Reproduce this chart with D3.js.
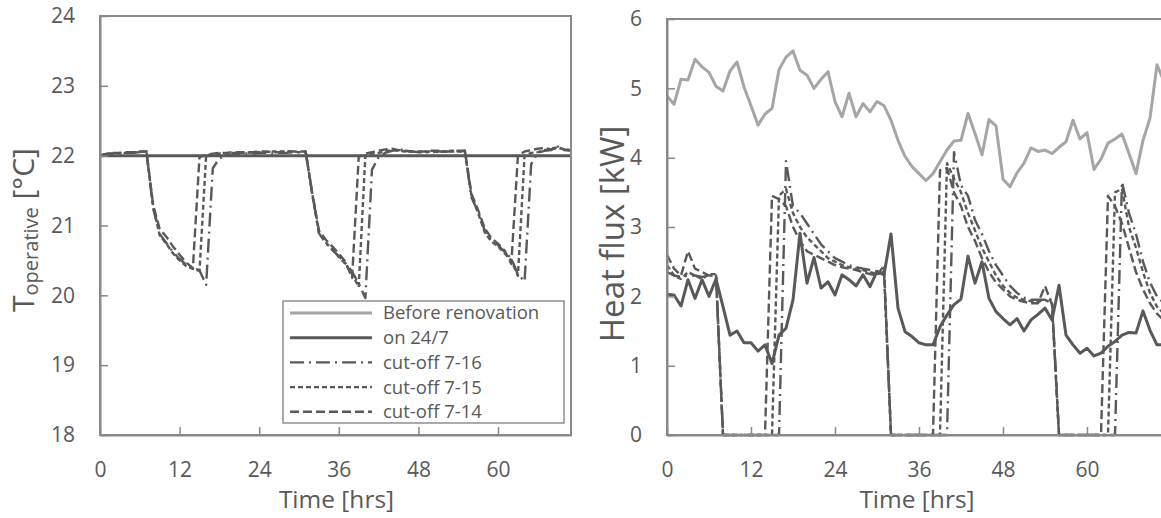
<!DOCTYPE html>
<html>
<head>
<meta charset="utf-8">
<script src="https://cdn.jsdelivr.net/npm/d3@7"></script>
<style>
  html, body { margin: 0; padding: 0; background: #fff; }
  svg { display: block; }
  text { font-family: "Open Sans", "Noto Sans", sans-serif; fill: #595959; }
</style>
</head>
<body>
<svg id="chart" width="1161" height="518"></svg>
<script>
// ---------- data ----------
const hours = [0,1,2,3,4,5,6,7,8,9,10,11,12,13,14,15,16,17,18,19,20,21,22,23,24,25,26,27,28,29,30,31,32,33,34,35,36,37,38,39,40,41,42,43,44,45,46,47,48,49,50,51,52,53,54,55,56,57,58,59,60,61,62,63,64,65,66,67,68,69,70,71];
const xTickValues = [0, 12, 24, 36, 48, 60];
const tempTicks = [18, 19, 20, 21, 22, 23, 24];
const fluxTicks = [0, 1, 2, 3, 4, 5, 6];
const seriesNames = ["Before renovation", "on 24/7", "cut-off 7-16", "cut-off 7-15", "cut-off 7-14"];

// Operative temperature [°C]
const tempOn247 = [22,22,22,22,22,22,22,22,22,22,22,22,22,22,22,22,22,22,22,22,22,22,22,22,22,22,22,22,22,22,22,22,22,22,22,22,22,22,22,22,22,22,22,22,22,22,22,22,22,22,22,22,22,22,22,22,22,22,22,22,22,22,22,22,22,22,22,22,22,22,22,22];
const tempCut716 = [22.00,22.02,22.03,22.03,22.04,22.04,22.05,22.06,
  21.25,20.88,20.75,20.62,20.52,20.44,20.39,20.36,20.15,
  21.82,21.96,22.00,22.02,22.03,22.03,22.03,22.04,22.04,22.03,22.04,22.04,22.05,22.05,22.05,
  21.46,20.89,20.75,20.65,20.56,20.46,20.34,20.17,19.96,
  21.80,21.98,22.04,22.07,22.10,22.07,22.06,22.05,22.05,22.05,22.06,22.06,22.06,22.06,22.07,
  21.40,21.20,20.93,20.79,20.72,20.62,20.53,20.30,20.20,
  21.88,22.04,22.07,22.08,22.13,22.08,22.07];
const tempCut715 = [22.00,22.03,22.03,22.04,22.04,22.05,22.05,22.06,
  21.28,20.86,20.74,20.60,20.50,20.42,20.38,20.35,22.00,
  22.02,22.03,22.03,22.04,22.04,22.04,22.05,22.05,22.05,22.06,22.06,22.06,22.06,22.05,22.06,
  21.44,20.90,20.76,20.66,20.55,20.45,20.30,20.12,22.00,
  22.03,22.04,22.06,22.08,22.07,22.06,22.06,22.05,22.06,22.06,22.05,22.06,22.07,22.06,22.06,
  21.42,21.18,20.90,20.77,20.70,20.60,20.50,20.28,22.00,
  22.04,22.05,22.08,22.10,22.12,22.09,22.08];
const tempCut714 = [22.00,22.03,22.04,22.04,22.05,22.05,22.06,22.06,
  21.30,20.95,20.84,20.70,20.58,20.47,20.39,21.98,22.01,
  22.03,22.04,22.04,22.05,22.05,22.05,22.05,22.06,22.06,22.05,22.05,22.06,22.06,22.06,22.06,
  21.46,20.93,20.80,20.70,20.60,20.48,20.25,21.98,22.03,
  22.05,22.07,22.09,22.10,22.08,22.07,22.06,22.06,22.06,22.07,22.07,22.06,22.06,22.07,22.07,
  21.45,21.22,20.96,20.82,20.74,20.64,20.45,22.00,22.06,
  22.08,22.10,22.11,22.09,22.11,22.09,22.08];

// Heat flux [kW]
const fluxBefore = [4.89,4.77,5.13,5.12,5.42,5.31,5.23,5.03,4.96,5.25,5.38,5.02,4.75,4.47,4.63,4.71,5.27,5.45,5.54,5.26,5.19,5.00,5.13,5.24,4.81,4.59,4.93,4.59,4.78,4.66,4.81,4.75,4.54,4.25,4.02,3.87,3.77,3.67,3.77,3.94,4.11,4.24,4.25,4.64,4.35,4.04,4.55,4.46,3.69,3.58,3.78,3.92,4.14,4.09,4.11,4.06,4.15,4.23,4.54,4.27,4.36,3.83,3.98,4.21,4.27,4.34,4.06,3.77,4.25,4.57,5.34,5.10];
const fluxOn247 = [2.03,2.02,1.86,2.24,1.97,2.24,2.00,2.25,1.85,1.44,1.50,1.33,1.33,1.21,1.30,1.03,1.44,1.54,1.95,2.91,2.19,2.56,2.12,2.21,2.02,2.31,2.24,2.15,2.31,2.14,2.36,2.31,2.90,1.83,1.49,1.42,1.33,1.30,1.30,1.56,1.73,1.88,1.96,2.58,2.19,2.50,1.97,1.78,1.68,1.59,1.68,1.50,1.66,1.74,1.83,1.66,2.16,1.44,1.30,1.18,1.25,1.14,1.18,1.28,1.35,1.44,1.48,1.47,1.79,1.51,1.30,1.30];
const fluxCut716 = [2.35,2.30,2.28,2.30,2.30,2.28,2.30,2.30,
  0,0,0,0,0,0,0,0,0,
  3.95,3.30,3.20,3.05,2.90,2.75,2.65,2.55,2.50,2.45,2.42,2.40,2.38,2.35,2.35,
  0,0,0,0,0,0,0,0,0,
  4.08,3.60,3.45,3.10,2.90,2.65,2.45,2.30,2.15,2.05,1.98,1.95,1.95,1.95,1.95,
  0,0,0,0,0,0,0,0,0,
  3.65,3.20,2.90,2.50,2.20,2.00,1.90];
const fluxCut715 = [2.45,2.30,2.25,2.35,2.30,2.25,2.32,2.32,
  0,0,0,0,0,0,0,0,
  3.45,3.55,3.20,3.00,2.85,2.75,2.65,2.55,2.50,2.45,2.42,2.40,2.38,2.35,2.32,2.35,
  0,0,0,0,0,0,0,0,
  3.92,3.70,3.50,3.20,2.95,2.70,2.50,2.30,2.15,2.05,1.98,1.95,1.93,1.92,1.95,1.90,
  0,0,0,0,0,0,0,0,
  3.50,3.55,3.00,2.70,2.35,2.05,1.85,1.75];
const fluxCut714 = [2.60,2.40,2.30,2.65,2.40,2.35,2.30,2.30,
  0,0,0,0,0,0,0,
  3.45,3.40,3.30,3.00,2.80,2.65,2.60,2.55,2.50,2.45,2.42,2.40,2.38,2.35,2.32,2.30,2.45,
  0,0,0,0,0,0,0,
  3.82,3.85,3.50,3.30,3.00,2.80,2.55,2.35,2.20,2.10,2.00,1.95,1.92,1.90,1.90,2.15,1.88,
  0,0,0,0,0,0,0,
  3.45,3.30,3.05,2.70,2.35,2.10,1.90,1.75,1.65];

// ---------- styles ----------
const styles = {
  "Before renovation": { color: "#a6a6a6", width: 3, dash: null },
  "on 24/7":           { color: "#595959", width: 3, dash: null },
  "cut-off 7-16":      { color: "#595959", width: 2.4, dash: "14,5,2,5" },
  "cut-off 7-15":      { color: "#595959", width: 2.4, dash: "5,3" },
  "cut-off 7-14":      { color: "#595959", width: 2.4, dash: "9,4" }
};
const axisColor = "#898989";

const svg = d3.select("#chart");

function drawPanel(cfg) {
  const x = d3.scaleLinear().domain([0, 71]).range([cfg.x0, cfg.x1]);
  const y = d3.scaleLinear().domain(cfg.yDomain).range([cfg.y1, cfg.y0]);
  const g = svg.append("g");

  const line = vals => d3.line().x((d, i) => x(hours[i])).y(d => y(d))(vals);
  cfg.series.forEach(s => {
    const st = styles[s.name];
    g.append("path")
      .attr("d", line(s.values))
      .attr("fill", "none")
      .attr("stroke", st.color)
      .attr("stroke-width", st.width)
      .attr("stroke-dasharray", st.dash)
      .attr("stroke-linejoin", "round");
  });

  g.append("rect")
    .attr("x", cfg.x0).attr("y", cfg.y0)
    .attr("width", cfg.x1 - cfg.x0).attr("height", cfg.y1 - cfg.y0)
    .attr("fill", "none").attr("stroke", axisColor).attr("stroke-width", 2);

  const ax = g.append("g").attr("transform", `translate(0,${cfg.y1})`)
    .call(d3.axisBottom(x).tickValues(xTickValues).tickFormat(d3.format("d"))
      .tickSize(-8).tickPadding(27).tickSizeOuter(0));
  const ay = g.append("g").attr("transform", `translate(${cfg.x0},0)`)
    .call(d3.axisLeft(y).tickValues(cfg.yTicks).tickFormat(d3.format("d"))
      .tickSize(-8).tickPadding(25).tickSizeOuter(0));
  [ax, ay].forEach(a => {
    a.select(".domain").attr("stroke", axisColor).attr("stroke-width", 2);
    a.selectAll(".tick line").attr("stroke", axisColor).attr("stroke-width", 1.5);
    a.selectAll(".tick text").attr("fill", "#595959").style("font-size", "21px")
      .style("font-family", '"Open Sans", sans-serif');
  });

  g.append("text").attr("x", (cfg.x0 + Math.min(cfg.x1, 1161)) / 2 + cfg.xTitleShift).attr("y", 508)
    .attr("text-anchor", "middle").style("font-size", "24.5px").text("Time [hrs]");
  return { x, y, g };
}

drawPanel({
  x0: 100, x1: 571, y0: 16, y1: 435, yDomain: [18, 24], yTicks: tempTicks, xTitleShift: 1,
  series: [
    { name: "cut-off 7-14", values: tempCut714 },
    { name: "cut-off 7-15", values: tempCut715 },
    { name: "cut-off 7-16", values: tempCut716 },
    { name: "on 24/7", values: tempOn247 }
  ]
});

drawPanel({
  x0: 667, x1: 1164, y0: 19, y1: 435, yDomain: [0, 6], yTicks: fluxTicks, xTitleShift: 3,
  series: [
    { name: "Before renovation", values: fluxBefore },
    { name: "cut-off 7-14", values: fluxCut714 },
    { name: "cut-off 7-15", values: fluxCut715 },
    { name: "cut-off 7-16", values: fluxCut716 },
    { name: "on 24/7", values: fluxOn247 }
  ]
});

// y titles
const tTitle = svg.append("text")
  .attr("transform", "translate(34,230) rotate(-90)")
  .attr("text-anchor", "middle").style("font-size", "30px");
tTitle.append("tspan").text("T");
tTitle.append("tspan").attr("dy", 4).style("font-size", "20px").text("operative");
tTitle.append("tspan").attr("dy", -4).text(" [°C]");

svg.append("text")
  .attr("transform", "translate(624,234) rotate(-90)")
  .attr("text-anchor", "middle").style("font-size", "33px").text("Heat flux [kW]");

// legend
const lg = svg.append("g");
lg.append("rect").attr("x", 283).attr("y", 301).attr("width", 281).attr("height", 122)
  .attr("fill", "#fff").attr("stroke", "#7f7f7f").attr("stroke-width", 1.3);
seriesNames.forEach((name, i) => {
  const yy = 313 + i * 24.7;
  const st = styles[name];
  lg.append("line").attr("x1", 290).attr("x2", 372).attr("y1", yy).attr("y2", yy)
    .attr("stroke", st.color).attr("stroke-width", st.width).attr("stroke-dasharray", st.dash);
  lg.append("text").attr("x", 383).attr("y", yy).attr("dy", "0.35em")
    .style("font-size", "18.5px").text(name);
});
</script>
</body>
</html>
